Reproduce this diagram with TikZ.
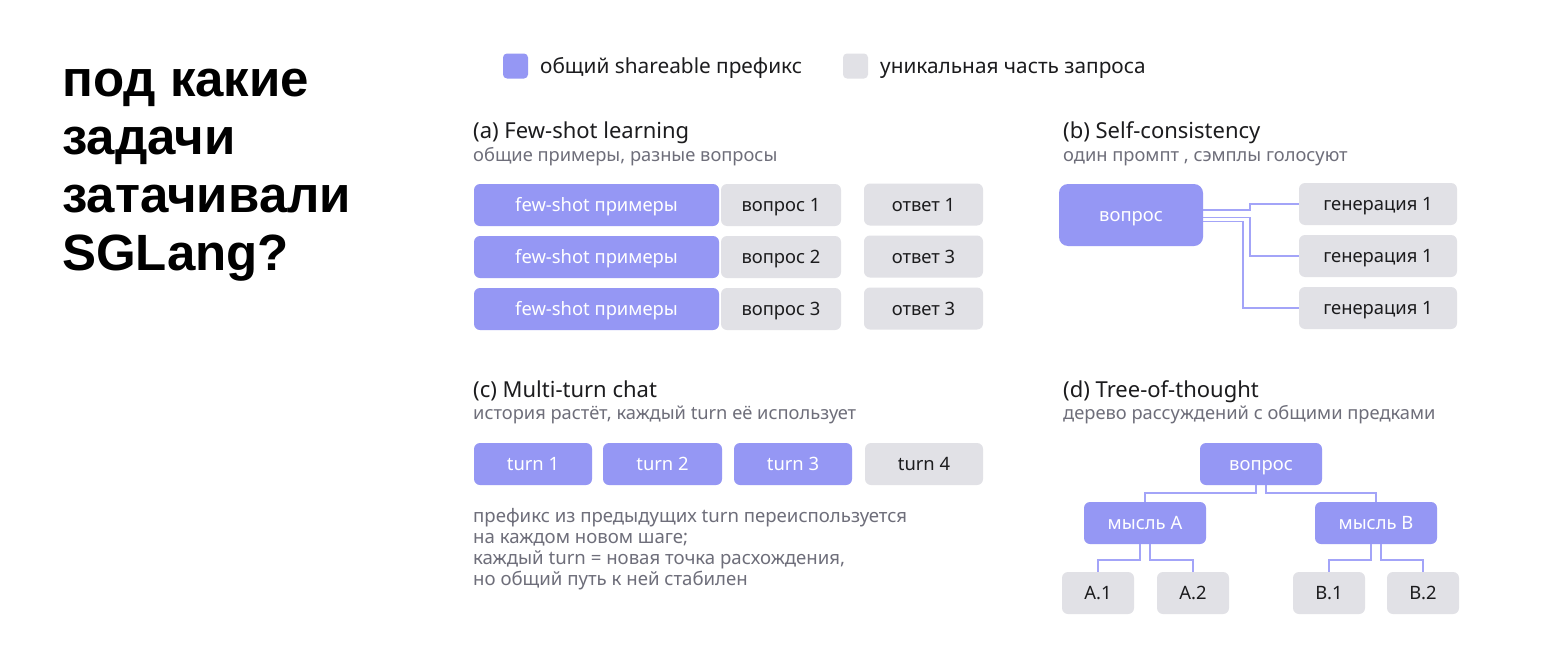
\documentclass[tikz,border=0pt]{standalone}
\usepackage{fontspec}
\setmainfont{Noto Sans}
\newfontfamily\titlefont{Liberation Sans}
\definecolor{purp}{HTML}{9597F4}
\definecolor{gry}{HTML}{E1E1E6}
\definecolor{conC}{HTML}{A3A4F8}
\definecolor{ink}{HTML}{1C1C1E}
\definecolor{sub}{HTML}{6E6E7A}
\newcommand{\fsz}[1]{\fontsize{#1}{#1}\selectfont}
\tikzset{
  boxbase/.style={rounded corners=6pt, inner sep=0pt, font=\fsz{18.4}, text height=13pt, text depth=0pt},
  pbox/.style={boxbase, fill=purp, text=white},
  gbox/.style={boxbase, fill=gry, text=ink},
  conn/.style={draw=conC, line width=1.5pt},
  head/.style={anchor=base west, inner sep=0pt, text=ink, font=\fsz{22}},
  subt/.style={anchor=base west, inner sep=0pt, text=sub, font=\fsz{18.3}},
  big/.style={anchor=base west, inner sep=0pt, text=black, font=\titlefont\bfseries\fsz{51}},
  legtxt/.style={anchor=base west, inner sep=0pt, text=ink, font=\fsz{20.8}},
  note/.style={anchor=base west, inner sep=0pt, text=sub, font=\fsz{18.6}},
}
\begin{document}
\begin{tikzpicture}[x=1pt,y=-1pt]
\useasboundingbox (0,0) rectangle (1560,648);
\fill[white] (0,0) rectangle (1560,648);
% big title
\node[big] (t1) at (62,96) {под какие};
\node[big] (t2) at (62,154) {задачи};
\node[big] (t3) at (62,212) {затачивали};
\node[big] (t4) at (62,270) {SGLang?};
% legend
\node[pbox, minimum width=25pt, minimum height=25pt, rounded corners=4pt] (lp) at (515.5,66) {};
\node[legtxt] (lpt) at (540,73) {общий shareable префикс};
\node[gbox, minimum width=25pt, minimum height=25pt, rounded corners=4pt] (lg) at (855.5,66) {};
\node[legtxt] (lgt) at (880,73) {уникальная часть запроса};
% (a)
\node[head] (ha) at (473,138) {(a) Few-shot learning};
\node[subt] (sa) at (473,161) {общие примеры, разные вопросы};
\foreach \i/\y/\q/\a in {1/205/вопрос 1/ответ 1, 2/257/вопрос 2/ответ 3, 3/309/вопрос 3/ответ 3}{
  \node[pbox, minimum width=245pt, minimum height=42pt] (fs\i) at (596.5,\y) {few-shot примеры};
  \node[gbox, minimum width=120pt, minimum height=42pt] (q\i) at (781,\y) {\q};
  \node[gbox, minimum width=119pt, minimum height=42pt] (an\i) at (923.5,\y-0.5) {\a};
}
% (b)
\node[head] (hb) at (1063,138) {(b) Self-consistency};
\node[subt] (sb) at (1063,161) {один промпт , сэмплы голосуют};
\node[pbox, minimum width=144pt, minimum height=62pt, rounded corners=9pt] (sq) at (1131,215) {вопрос};
\node[gbox, minimum width=158pt, minimum height=42pt] (g1) at (1378,204) {генерация 1};
\node[gbox, minimum width=158pt, minimum height=42pt] (g2) at (1378,256) {генерация 1};
\node[gbox, minimum width=158pt, minimum height=42pt] (g3) at (1378,308) {генерация 1};
\draw[conn] ([yshift=5pt]sq.east) -- ++(47,0) |- (g1.west);
\draw[conn] ([yshift=-2.7pt]sq.east) -- ++(47,0) |- (g2.west);
\draw[conn] ([yshift=-6.7pt]sq.east) -- ++(40,0) |- (g3.west);
% (c)
\node[head] (hc) at (473,397) {(c) Multi-turn chat};
\node[subt] (sc) at (473,419) {история растёт, каждый turn её использует};
\node[pbox, minimum width=118pt, minimum height=42pt] (c1) at (533,464) {turn 1};
\node[pbox, minimum width=119pt, minimum height=42pt] (c2) at (662.5,464) {turn 2};
\node[pbox, minimum width=118pt, minimum height=42pt] (c3) at (793,464) {turn 3};
\node[gbox, minimum width=118pt, minimum height=42pt] (c4) at (924,464) {turn 4};
\node[note] (n1) at (473,522) {префикс из предыдущих turn переиспользуется};
\node[note] (n2) at (473,543) {на каждом новом шаге;};
\node[note] (n3) at (473,564) {каждый turn = новая точка расхождения,};
\node[note] (n4) at (473,585) {но общий путь к ней стабилен};
% (d)
\node[head] (hd) at (1063,397) {(d) Tree-of-thought};
\node[subt] (sd) at (1063,419) {дерево рассуждений с общими предками};
\node[pbox, minimum width=122pt, minimum height=42pt] (tq) at (1261,464) {вопрос};
\node[pbox, minimum width=122pt, minimum height=42pt] (ma) at (1145,523) {мысль A};
\node[pbox, minimum width=122pt, minimum height=42pt] (mb) at (1376,523) {мысль B};
\node[gbox, minimum width=72pt, minimum height=42pt] (a1) at (1098,593) {A.1};
\node[gbox, minimum width=72pt, minimum height=42pt] (a2) at (1193,593) {A.2};
\node[gbox, minimum width=72pt, minimum height=42pt] (b1) at (1329,593) {B.1};
\node[gbox, minimum width=72pt, minimum height=42pt] (b2) at (1423,593) {B.2};
\draw[conn] ([xshift=-5pt]tq.south) -- ++(0,8) -| (ma.north);
\draw[conn] ([xshift=5pt]tq.south) -- ++(0,8) -| (mb.north);
\draw[conn] ([xshift=-5pt]ma.south) -- ++(0,16) -| (a1.north);
\draw[conn] ([xshift=5pt]ma.south) -- ++(0,16) -| (a2.north);
\draw[conn] ([xshift=-5pt]mb.south) -- ++(0,16) -| (b1.north);
\draw[conn] ([xshift=5pt]mb.south) -- ++(0,16) -| (b2.north);
\end{tikzpicture}
\end{document}
